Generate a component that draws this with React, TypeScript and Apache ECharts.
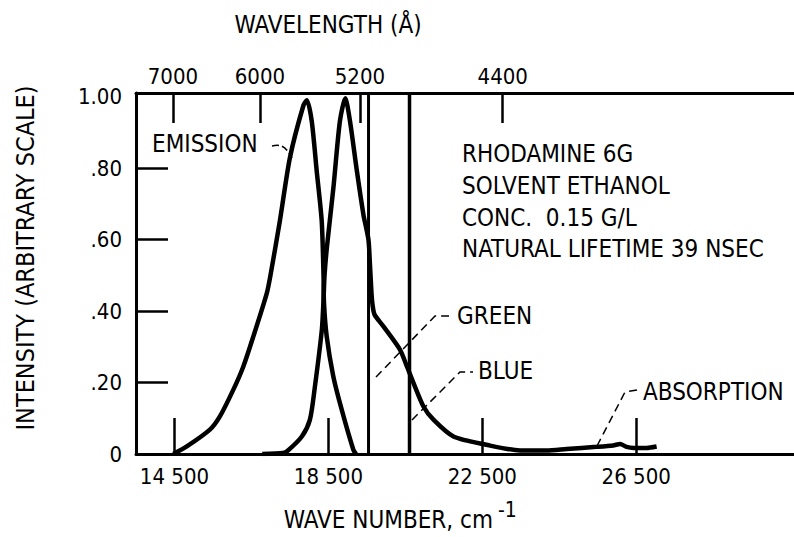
import React, { useEffect, useRef } from "react";
import * as echarts from "echarts";

// ---- data ----
const waveNumberTicks = [14500, 18500, 22500, 26500];
const intensityTicks = [0.2, 0.4, 0.6, 0.8];
const intensityLabels = [0, 0.2, 0.4, 0.6, 0.8, 1.0];
const wavelengthLabels = [7000, 6000, 5200, 4400];
// wave-number positions of the wavelength ticks as drawn on the original
const wavelengthTickPositions = [14460, 16720, 19320, 23030];

const emissionWaveNumber = [
  14470, 14820, 15420, 15680, 16030, 16290, 16550, 16900, 17000, 17240, 17500, 17850,
  17940, 18066, 18196, 18326, 18373, 18386, 18456, 18628, 18846, 19148, 19218,
];
const emissionIntensity = [
  0, 0.021, 0.068, 0.105, 0.18, 0.245, 0.329, 0.45, 0.503, 0.653, 0.829, 0.975,
  0.99, 0.932, 0.792, 0.652, 0.502, 0.422, 0.329, 0.217, 0.124, 0.012, 0,
];

const absorptionWaveNumber = [
  16780, 17320, 17420, 17810, 18020, 18150, 18330, 18370, 18400, 18460, 18630, 18800,
  18940, 19060, 19240, 19410, 19540, 19580, 19620, 19650, 19700, 19930, 20360, 20540,
  20710, 20970, 21230, 21750, 22600, 23480, 24170, 24690, 25470, 25900, 26080, 26250,
  26430, 26770, 27030,
];
const absorptionIntensity = [
  0, 0.003, 0.007, 0.049, 0.096, 0.189, 0.348, 0.423, 0.5, 0.577, 0.745, 0.932,
  0.995, 0.932, 0.792, 0.67, 0.6, 0.53, 0.45, 0.415, 0.39, 0.357, 0.292, 0.245,
  0.199, 0.133, 0.096, 0.049, 0.026, 0.01, 0.01, 0.014, 0.02, 0.024, 0.028, 0.02,
  0.017, 0.017, 0.021,
];

const greenLineWaveNumber = 19543;
const blueLineWaveNumber = 20608;

const X_MIN = 13500;
const X_MAX = 30600;
const Y_MAX = 1.01;

const FONT = "'DejaVu Sans Condensed', 'Liberation Sans Narrow', 'DejaVu Sans', sans-serif";
const INK = "#000";

function pairs(xs: number[], ys: number[]) {
  return xs.map((x, i) => [x, ys[i]]);
}

function fmtWaveNumber(v: number) {
  const s = String(Math.round(v));
  return s.slice(0, s.length - 3) + " " + s.slice(-3);
}

function fmtIntensity(v: number) {
  if (v === 0) return "0";
  if (v >= 0.999) return "1.00";
  return "." + String(Math.round(v * 100)).padStart(2, "0");
}

function fmtWavelength(v: number) {
  let best = 0;
  for (let i = 1; i < wavelengthTickPositions.length; i++) {
    if (Math.abs(wavelengthTickPositions[i] - v) < Math.abs(wavelengthTickPositions[best] - v)) best = i;
  }
  return String(wavelengthLabels[best]);
}

const textStyle = (extra: any) => ({ fill: INK, fontFamily: FONT, fontSize: 24, ...extra });

export default function App() {
  const ref = useRef<HTMLDivElement>(null);
  useEffect(() => {
    const chart = echarts.init(ref.current!, null, { renderer: "svg" });
    const axisLine = { show: true, lineStyle: { color: INK, width: 3 } };
    const option: any = {
      animation: false,
      backgroundColor: "#fff",
      grid: { left: 136, right: 0, top: 93, bottom: 83, containLabel: false },
      xAxis: [
        {
          type: "value",
          position: "bottom",
          min: X_MIN,
          max: X_MAX,
          axisLine,
          splitLine: { show: false },
          axisTick: {
            show: true,
            inside: true,
            length: 36,
            customValues: waveNumberTicks,
            lineStyle: { color: INK, width: 2.5 },
          },
          axisLabel: {
            customValues: waveNumberTicks,
            formatter: fmtWaveNumber,
            color: INK,
            fontFamily: FONT,
            fontSize: 22,
            margin: 11,
          },
        },
        {
          type: "value",
          position: "top",
          min: X_MIN,
          max: X_MAX,
          axisLine,
          splitLine: { show: false },
          axisTick: {
            show: true,
            inside: true,
            length: 30,
            customValues: wavelengthTickPositions,
            lineStyle: { color: INK, width: 2.5 },
          },
          axisLabel: {
            customValues: wavelengthTickPositions,
            formatter: fmtWavelength,
            color: INK,
            fontFamily: FONT,
            fontSize: 22,
            margin: 6,
          },
        },
      ],
      yAxis: {
        type: "value",
        min: 0,
        max: Y_MAX,
        axisLine,
        splitLine: { show: false },
        axisTick: {
          show: true,
          inside: true,
          length: 32,
          customValues: intensityTicks,
          lineStyle: { color: INK, width: 2.5 },
        },
        axisLabel: {
          customValues: intensityLabels,
          formatter: fmtIntensity,
          color: INK,
          fontFamily: FONT,
          fontSize: 22,
          margin: 14,
        },
      },
      series: [
        {
          name: "Emission",
          type: "line",
          data: pairs(emissionWaveNumber, emissionIntensity),
          showSymbol: false,
          symbol: "none",
          smooth: 0.25,
          lineStyle: { color: INK, width: 4.5 },
          z: 3,
        },
        {
          name: "Absorption",
          type: "line",
          data: pairs(absorptionWaveNumber, absorptionIntensity),
          showSymbol: false,
          symbol: "none",
          smooth: 0.25,
          lineStyle: { color: INK, width: 4.5 },
          z: 3,
        },
        {
          name: "Green",
          type: "line",
          data: [
            [greenLineWaveNumber, 0],
            [greenLineWaveNumber, Y_MAX],
          ],
          symbol: "none",
          lineStyle: { color: INK, width: 3 },
        },
        {
          name: "Blue",
          type: "line",
          data: [
            [blueLineWaveNumber, 0],
            [blueLineWaveNumber, Y_MAX],
          ],
          symbol: "none",
          lineStyle: { color: INK, width: 3.5 },
        },
      ],
      graphic: [
        { type: "text", x: 328, y: 25, style: textStyle({ text: "WAVELENGTH (Å)", align: "center", verticalAlign: "middle" }) },
        {
          type: "text",
          x: 25,
          y: 258,
          rotation: Math.PI / 2,
          style: textStyle({ text: "INTENSITY (ARBITRARY SCALE)", fontSize: 25, align: "center", verticalAlign: "middle" }),
        },
        { type: "text", x: 493, y: 520, style: textStyle({ text: "WAVE NUMBER, cm", align: "right", verticalAlign: "middle" }) },
        { type: "text", x: 498, y: 510, style: textStyle({ text: "-1", fontSize: 21, align: "left", verticalAlign: "middle" }) },
        { type: "text", x: 152, y: 144, style: textStyle({ text: "EMISSION", align: "left", verticalAlign: "middle" }) },
        {
          type: "bezierCurve",
          shape: { x1: 272, y1: 146, x2: 292, y2: 158, cpx1: 284, cpy1: 143, cpx2: 287, cpy2: 150 },
          style: { stroke: INK, lineWidth: 1.5, fill: "none", lineDash: [7, 3] },
        },
        { type: "text", x: 462, y: 154, style: textStyle({ text: "RHODAMINE 6G", align: "left", verticalAlign: "middle" }) },
        { type: "text", x: 462, y: 186, style: textStyle({ text: "SOLVENT ETHANOL", align: "left", verticalAlign: "middle" }) },
        { type: "text", x: 462, y: 217.5, style: textStyle({ text: "CONC.  0.15 G/L", align: "left", verticalAlign: "middle" }) },
        { type: "text", x: 462, y: 249, style: textStyle({ text: "NATURAL LIFETIME 39 NSEC", align: "left", verticalAlign: "middle" }) },
        {
          type: "polyline",
          shape: { points: [[376, 377], [435, 316], [449, 316]] },
          style: { stroke: INK, lineWidth: 1.5, fill: "none", lineDash: [8, 5] },
        },
        { type: "text", x: 457, y: 316, style: textStyle({ text: "GREEN", align: "left", verticalAlign: "middle" }) },
        {
          type: "polyline",
          shape: { points: [[412, 420], [460, 372], [473, 372]] },
          style: { stroke: INK, lineWidth: 1.5, fill: "none", lineDash: [8, 5] },
        },
        { type: "text", x: 478, y: 371, style: textStyle({ text: "BLUE", align: "left", verticalAlign: "middle" }) },
        {
          type: "polyline",
          shape: { points: [[597, 446], [625, 392], [637, 390]] },
          style: { stroke: INK, lineWidth: 1.5, fill: "none", lineDash: [8, 5] },
        },
        { type: "text", x: 643, y: 392, style: textStyle({ text: "ABSORPTION", align: "left", verticalAlign: "middle" }) },
      ],
    };
    chart.setOption(option);
    return () => chart.dispose();
  }, []);
  return (
    <div
      ref={ref}
      style={{ position: "fixed", left: 0, top: 0, width: 794, height: 537, background: "#fff" }}
    />
  );
}
